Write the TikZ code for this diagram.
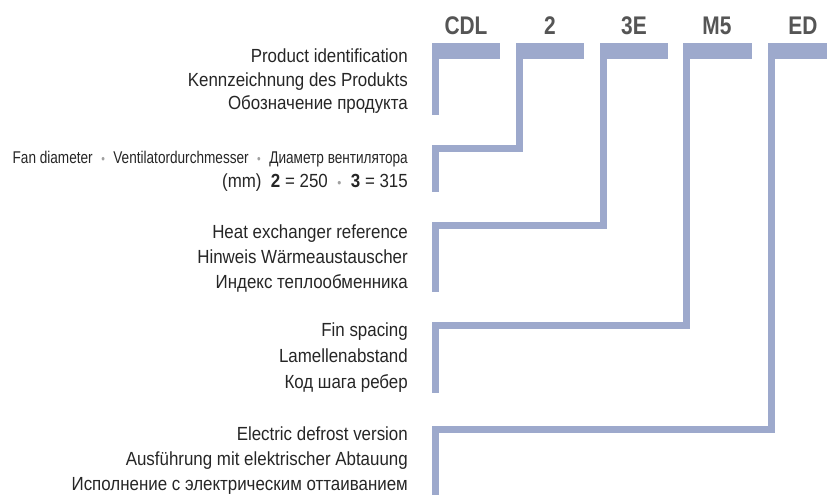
\documentclass[tikz,border=0pt]{standalone}
\usepackage{fontspec}
\setmainfont[FakeStretch=0.89]{Liberation Sans}
\newfontfamily\fanfont[FakeStretch=0.8]{Liberation Sans}
\newfontfamily\hdrfont[FakeStretch=0.82]{Liberation Sans}
\definecolor{barc}{RGB}{157,169,204}
\definecolor{txtc}{RGB}{38,38,38}
\definecolor{hdrc}{RGB}{85,85,85}
\definecolor{dotc}{RGB}{160,160,160}
\newcommand{\sepdot}{\hspace{0.5em}{\color{dotc}\fontsize{13}{13}\selectfont •}\hspace{0.5em}}
\begin{document}
\begin{tikzpicture}[x=1pt,y=-1pt,
  lbl/.style={anchor=base east, inner sep=0pt, text=txtc, font=\fontsize{19}{21}\selectfont},
  fanlbl/.style={anchor=base east, inner sep=0pt, text=txtc, font=\fanfont\fontsize{17}{20}\selectfont},
  codelbl/.style={anchor=base, inner sep=0pt, text=hdrc, font=\hdrfont\bfseries\fontsize{25.5}{28}\selectfont},
  barfill/.style={fill=barc}]
\useasboundingbox (0,0) rectangle (827,495);

% header codes
\node[codelbl] (cdl) at (466,35) {CDL};
\node[codelbl] (two) at (550,35) {2};
\node[codelbl] (tre) at (634,35) {3E};
\node[codelbl] (mfv) at (717,35) {M5};
\node[codelbl] (edv) at (803,35) {ED};

% bars
\fill[barfill] (432,43) rectangle (500,59);
\fill[barfill] (432,43) rectangle (439,115);

\fill[barfill] (516,43) rectangle (584,59);
\fill[barfill] (516,43) rectangle (523,152);
\fill[barfill] (432,145) rectangle (523,152);
\fill[barfill] (432,145) rectangle (439,192);

\fill[barfill] (600,43) rectangle (668,59);
\fill[barfill] (600,43) rectangle (607,229);
\fill[barfill] (432,222) rectangle (607,229);
\fill[barfill] (432,222) rectangle (439,292);

\fill[barfill] (683,43) rectangle (752,59);
\fill[barfill] (683,43) rectangle (690,329);
\fill[barfill] (432,322) rectangle (690,329);
\fill[barfill] (432,322) rectangle (439,393);

\fill[barfill] (768,43) rectangle (827,59);
\fill[barfill] (768,43) rectangle (775,433);
\fill[barfill] (432,426) rectangle (775,433);
\fill[barfill] (432,426) rectangle (439,495);

% block 1
\node[lbl] (a1) at (408,63) {Product identification};
\node[lbl] (a2) at (408,86) {Kennzeichnung des Produkts};
\node[lbl] (a3) at (408,109) {Обозначение продукта};
% block 2
\node[fanlbl] (b1) at (408,163) {Fan diameter\sepdot Ventilatordurchmesser\sepdot Диаметр вентилятора};
\node[lbl] (b2) at (408,187) {(mm)\ \ \textbf{2} = 250\sepdot\textbf{3} = 315};
% block 3
\node[lbl] (c1) at (408,238) {Heat exchanger reference};
\node[lbl] (c2) at (408,263) {Hinweis Wärmeaustauscher};
\node[lbl] (c3) at (408,288) {Индекс теплообменника};
% block 4
\node[lbl] (d1) at (408,336) {Fin spacing};
\node[lbl] (d2) at (408,362) {Lamellenabstand};
\node[lbl] (d3) at (408,388) {Код шага ребер};
% block 5
\node[lbl] (e1) at (408,440) {Electric defrost version};
\node[lbl] (e2) at (408,465) {Ausführung mit elektrischer Abtauung};
\node[lbl] (e3) at (408,490) {Исполнение с электрическим оттаиванием};
\end{tikzpicture}
\end{document}
